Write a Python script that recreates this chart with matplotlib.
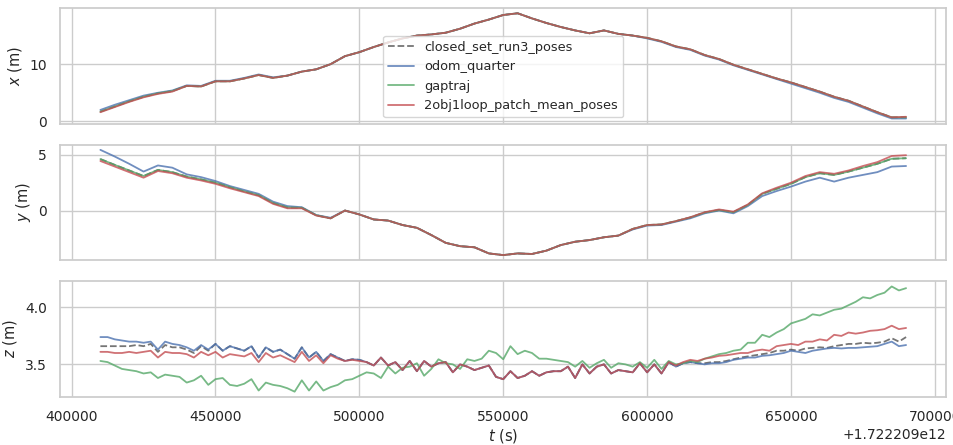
import numpy as np
import seaborn as sns
from matplotlib import pyplot as plt

T0 = 1.722209e12

# sample times (ms after T0)
t_xy = np.arange(410000, 690001, 5000)
t_z = np.arange(410000, 690001, 2500)

labels = ['closed_set_run3_poses', 'odom_quarter', 'gaptraj', '2obj1loop_patch_mean_poses']

#%% x (m)
x_patch = [1.6, 2.5, 3.4, 4.2, 4.8, 5.2, 6.2, 6.1, 7.0, 7.0, 7.5, 8.1, 7.6, 8.0, 8.7,
           9.1, 10.0, 11.4, 12.1, 13.0, 13.8, 14.5, 15.0, 15.2, 15.5, 16.2, 17.1, 17.8,
           18.6, 18.9, 18.0, 17.2, 16.5, 15.9, 15.4, 15.9, 15.3, 15.0, 14.6, 14.0, 13.1,
           12.6, 11.6, 10.9, 9.9, 9.1, 8.3, 7.5, 6.8, 6.0, 5.2, 4.3, 3.6, 2.6, 1.6, 0.7, 0.8]
x_odom = [2.0, 2.9, 3.7, 4.5, 5.0, 5.4, 6.3, 6.2, 7.1, 7.1, 7.6, 8.2, 7.7, 8.0, 8.7,
          9.1, 10.0, 11.4, 12.1, 13.0, 13.8, 14.5, 15.0, 15.2, 15.5, 16.2, 17.1, 17.8,
          18.6, 18.9, 18.0, 17.2, 16.5, 15.9, 15.4, 15.9, 15.3, 15.0, 14.5, 13.9, 13.0,
          12.5, 11.5, 10.8, 9.8, 9.0, 8.2, 7.4, 6.6, 5.8, 5.0, 4.1, 3.4, 2.4, 1.4, 0.5, 0.5]
x_gap = [1.7, 2.6, 3.5, 4.3, 4.9, 5.3, 6.2, 6.1, 7.0, 7.0, 7.5, 8.1, 7.6, 8.0, 8.7,
         9.1, 10.0, 11.4, 12.1, 13.0, 13.8, 14.5, 15.0, 15.2, 15.5, 16.2, 17.1, 17.8,
         18.6, 18.9, 18.0, 17.2, 16.5, 15.9, 15.4, 15.9, 15.3, 15.0, 14.6, 14.0, 13.1,
         12.6, 11.6, 10.9, 9.9, 9.1, 8.3, 7.5, 6.8, 6.0, 5.2, 4.3, 3.6, 2.6, 1.6, 0.7, 0.7]
x_closed = list(x_gap)

#%% y (m)
y_patch = [4.45, 3.95, 3.45, 2.95, 3.55, 3.35, 2.95, 2.7, 2.4, 2.0, 1.65, 1.3, 0.6, 0.2,
           0.2, -0.45, -0.7, 0.0, -0.35, -0.8, -0.9, -1.3, -1.55, -2.2, -2.9, -3.2, -3.3,
           -3.85, -4.0, -3.85, -3.9, -3.6, -3.1, -2.8, -2.65, -2.4, -2.25, -1.65, -1.3,
           -1.25, -0.95, -0.6, -0.15, 0.1, -0.1, 0.55, 1.55, 2.05, 2.5, 3.1, 3.45, 3.3,
           3.6, 4.0, 4.35, 4.9, 4.97]
y_odom = [5.45, 4.85, 4.2, 3.5, 4.05, 3.85, 3.25, 3.0, 2.65, 2.2, 1.85, 1.5, 0.8, 0.4,
          0.3, -0.4, -0.65, 0.0, -0.35, -0.8, -0.9, -1.3, -1.55, -2.2, -2.9, -3.2, -3.3,
          -3.85, -4.0, -3.85, -3.9, -3.6, -3.1, -2.8, -2.65, -2.4, -2.25, -1.7, -1.35,
          -1.3, -1.0, -0.7, -0.25, 0.0, -0.25, 0.4, 1.3, 1.75, 2.15, 2.6, 2.95, 2.6,
          2.95, 3.2, 3.45, 3.95, 4.0]
y_gap = [4.62, 4.1, 3.6, 3.1, 3.65, 3.45, 3.05, 2.8, 2.5, 2.1, 1.72, 1.38, 0.68, 0.28,
         0.25, -0.42, -0.7, 0.0, -0.35, -0.8, -0.9, -1.3, -1.55, -2.2, -2.9, -3.2, -3.3,
         -3.85, -4.0, -3.85, -3.9, -3.6, -3.1, -2.8, -2.65, -2.4, -2.25, -1.65, -1.3,
         -1.25, -0.95, -0.62, -0.18, 0.05, -0.15, 0.5, 1.5, 1.95, 2.4, 3.0, 3.35, 3.2,
         3.5, 3.85, 4.2, 4.65, 4.7]
y_closed = list(y_gap)

#%% z (m)
z_odom = [3.74, 3.74, 3.72, 3.71, 3.70, 3.70, 3.69, 3.70, 3.63, 3.70, 3.68, 3.67, 3.65,
          3.62, 3.67, 3.63, 3.68, 3.62, 3.66, 3.64, 3.62, 3.66, 3.56, 3.65, 3.61, 3.63,
          3.59, 3.55, 3.65, 3.56, 3.61, 3.53, 3.59, 3.56, 3.53, 3.545, 3.54, 3.52, 3.49,
          3.56, 3.49, 3.52, 3.45, 3.53, 3.44, 3.53, 3.48, 3.51, 3.52, 3.43, 3.50, 3.48,
          3.45, 3.47, 3.49, 3.39, 3.37, 3.44, 3.38, 3.40, 3.44, 3.40, 3.43, 3.44, 3.44,
          3.48, 3.38, 3.50, 3.42, 3.48, 3.50, 3.42, 3.45, 3.44, 3.43, 3.51, 3.43, 3.50,
          3.42, 3.52, 3.48, 3.51, 3.52, 3.51, 3.50, 3.51, 3.51, 3.52, 3.54, 3.55, 3.56,
          3.56, 3.575, 3.58, 3.59, 3.60, 3.62, 3.61, 3.60, 3.62, 3.63, 3.64, 3.645, 3.64,
          3.645, 3.645, 3.65, 3.655, 3.66, 3.68, 3.70, 3.66, 3.67]
z_patch = [3.61, 3.61, 3.60, 3.60, 3.61, 3.60, 3.61, 3.62, 3.56, 3.61, 3.60, 3.60, 3.59,
           3.56, 3.61, 3.58, 3.61, 3.56, 3.59, 3.58, 3.57, 3.60, 3.52, 3.60, 3.56, 3.58,
           3.55, 3.52, 3.61, 3.53, 3.58, 3.51, 3.58, 3.55, 3.53, 3.54, 3.53, 3.52, 3.49,
           3.56, 3.49, 3.52, 3.45, 3.53, 3.44, 3.53, 3.48, 3.51, 3.52, 3.43, 3.50, 3.48,
           3.45, 3.47, 3.49, 3.39, 3.37, 3.44, 3.38, 3.40, 3.44, 3.40, 3.43, 3.44, 3.44,
           3.48, 3.38, 3.50, 3.42, 3.48, 3.50, 3.42, 3.45, 3.44, 3.43, 3.51, 3.43, 3.50,
           3.42, 3.52, 3.49, 3.52, 3.54, 3.53, 3.55, 3.56, 3.575, 3.58, 3.59, 3.60, 3.60,
           3.62, 3.63, 3.62, 3.66, 3.67, 3.68, 3.67, 3.70, 3.70, 3.72, 3.71, 3.76, 3.75,
           3.78, 3.77, 3.78, 3.795, 3.80, 3.81, 3.84, 3.81, 3.82]
z_closed = [3.66, 3.66, 3.66, 3.66, 3.66, 3.67, 3.66, 3.68, 3.61, 3.67, 3.65, 3.65, 3.63,
            3.60, 3.66, 3.62, 3.68, 3.62, 3.66, 3.64, 3.62, 3.66, 3.56, 3.65, 3.61, 3.63,
            3.59, 3.55, 3.65, 3.56, 3.61, 3.53, 3.59, 3.56, 3.53, 3.545, 3.54, 3.52, 3.49,
            3.56, 3.49, 3.52, 3.45, 3.53, 3.44, 3.53, 3.48, 3.51, 3.52, 3.43, 3.50, 3.48,
            3.45, 3.47, 3.49, 3.39, 3.37, 3.44, 3.38, 3.40, 3.44, 3.40, 3.43, 3.44, 3.44,
            3.48, 3.38, 3.50, 3.42, 3.48, 3.50, 3.42, 3.45, 3.44, 3.43, 3.51, 3.43, 3.50,
            3.42, 3.52, 3.48, 3.51, 3.52, 3.51, 3.51, 3.52, 3.52, 3.53, 3.545, 3.56, 3.57,
            3.58, 3.59, 3.60, 3.62, 3.62, 3.63, 3.62, 3.64, 3.645, 3.65, 3.645, 3.66, 3.67,
            3.68, 3.68, 3.69, 3.685, 3.69, 3.70, 3.73, 3.70, 3.74]
z_gap = [3.53, 3.52, 3.49, 3.46, 3.45, 3.44, 3.42, 3.43, 3.38, 3.41, 3.40, 3.39, 3.34,
         3.36, 3.40, 3.32, 3.37, 3.38, 3.32, 3.31, 3.33, 3.37, 3.27, 3.34, 3.32, 3.31,
         3.29, 3.26, 3.36, 3.27, 3.35, 3.27, 3.30, 3.32, 3.36, 3.37, 3.40, 3.43, 3.42,
         3.38, 3.48, 3.42, 3.47, 3.48, 3.51, 3.40, 3.46, 3.545, 3.51, 3.50, 3.46, 3.545,
         3.53, 3.55, 3.62, 3.60, 3.545, 3.66, 3.59, 3.62, 3.60, 3.55, 3.55, 3.54, 3.53,
         3.52, 3.48, 3.53, 3.47, 3.51, 3.54, 3.47, 3.51, 3.50, 3.48, 3.52, 3.47, 3.54,
         3.46, 3.53, 3.50, 3.51, 3.53, 3.52, 3.55, 3.57, 3.59, 3.60, 3.62, 3.63, 3.69,
         3.69, 3.76, 3.74, 3.78, 3.81, 3.86, 3.88, 3.90, 3.94, 3.93, 3.955, 3.98, 3.99,
         4.02, 4.05, 4.09, 4.08, 4.11, 4.13, 4.185, 4.15, 4.17]

#%% draw
sns.set_theme(style='whitegrid')
plt.rcParams['xtick.labelsize'] = 10
plt.rcParams['ytick.labelsize'] = 10
plt.rcParams['axes.labelsize'] = 10.5
plt.rcParams['legend.fontsize'] = 9.3
pal = sns.color_palette('deep')
styles = [dict(color='k', ls='--', alpha=0.6), dict(color=pal[0], alpha=0.8),
          dict(color=pal[2], alpha=0.8), dict(color=pal[3], alpha=0.8)]

fig, axs = plt.subplots(3, 1, sharex=True, figsize=(9.54, 4.45), dpi=100)
panels = [(t_xy, [x_closed, x_odom, x_gap, x_patch], '$x$ (m)'),
          (t_xy, [y_closed, y_odom, y_gap, y_patch], '$y$ (m)'),
          (t_z, [z_closed, z_odom, z_gap, z_patch], '$z$ (m)')]
for ax, (tt, series, ylab) in zip(axs, panels):
    for s, st, lab in zip(series, styles, labels):
        ax.plot(T0 + tt, s, label=lab, lw=1.3, **st)
    ax.set_ylabel(ylab)

axs[0].legend(loc='lower center')
axs[2].set_xlabel('$t$ (s)', labelpad=2)
plt.subplots_adjust(left=0.063, right=0.992, top=0.982, bottom=0.108, hspace=0.18)
plt.savefig('out.png', dpi=100)
